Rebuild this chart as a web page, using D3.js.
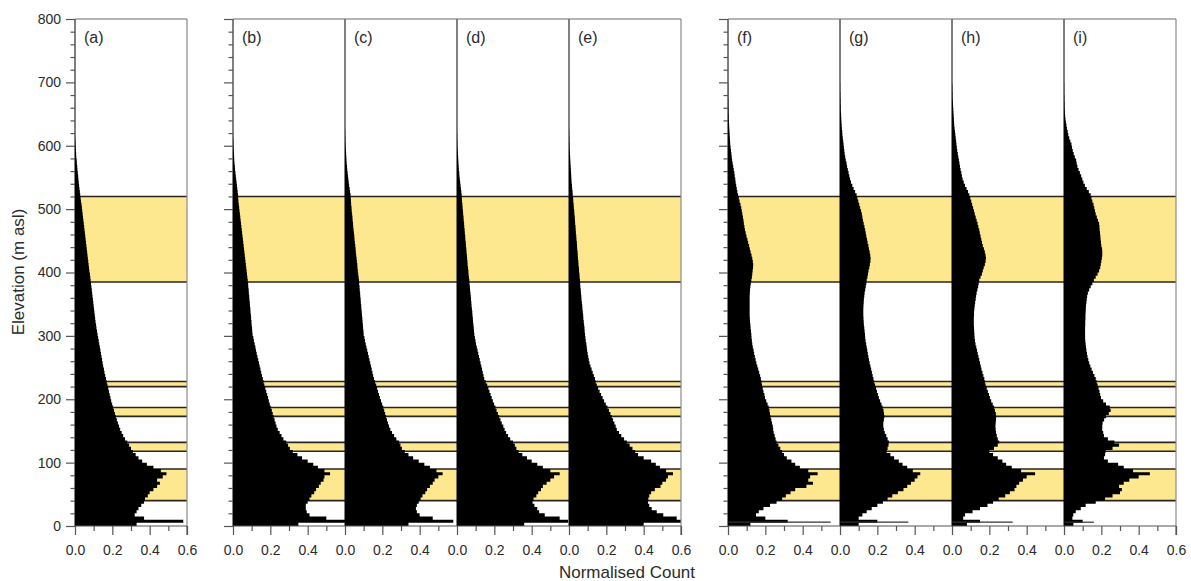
<!DOCTYPE html>
<html>
<head>
<meta charset="utf-8">
<script src="https://cdn.jsdelivr.net/npm/d3@7"></script>
<style>
  body { margin: 0; background: #fff; }
  svg { display: block; font-family: "Liberation Sans", Arial, sans-serif; }
</style>
</head>
<body>
<svg id="chart" width="1191" height="581"></svg>
<script>
// ---------------- DATA ----------------
const panelLabels = ["(a)", "(b)", "(c)", "(d)", "(e)", "(f)", "(g)", "(h)", "(i)"];
const binWidth = 5; // elevation bin width (m); value i covers [i*5, i*5+5)

const histA = [
  0.33,0.58,0.37,0.32,0.33,0.34,0.355,0.37,0.375,0.39,
  0.40,0.42,0.44,0.455,0.44,0.47,0.49,0.46,0.42,0.385,
  0.36,0.34,0.325,0.31,0.30,0.29,0.28,0.268,0.258,0.25,
  0.242,0.236,0.23,0.224,0.219,0.214,0.209,0.204,0.199,0.194,
  0.19,0.186,0.182,0.178,0.174,0.17,0.166,0.162,0.158,0.155,
  0.151,0.148,0.145,0.142,0.139,0.136,0.133,0.13,0.127,0.124,
  0.121,0.118,0.115,0.113,0.11,0.108,0.106,0.104,0.102,0.10,
  0.098,0.096,0.094,0.092,0.09,0.088,0.086,0.084,0.082,0.08,
  0.077,0.075,0.073,0.071,0.069,0.067,0.065,0.063,0.061,0.059,
  0.057,0.055,0.053,0.051,0.049,0.047,0.045,0.043,0.041,0.039,
  0.037,0.035,0.032,0.03,0.028,0.026,0.024,0.022,0.02,0.018,
  0.017,0.015,0.013,0.012,0.01,0.009,0.007,0.006,0.005,0.004,
  0.003,0.002,0.001
];
const histB = [
  0.35,0.60,0.50,0.41,0.395,0.39,0.39,0.40,0.41,0.42,
  0.435,0.445,0.46,0.47,0.485,0.49,0.52,0.49,0.455,0.43,
  0.40,0.37,0.345,0.32,0.305,0.295,0.285,0.27,0.26,0.25,
  0.24,0.233,0.228,0.223,0.218,0.213,0.208,0.202,0.197,0.192,
  0.188,0.183,0.178,0.173,0.168,0.164,0.16,0.155,0.151,0.147,
  0.143,0.139,0.135,0.131,0.127,0.123,0.12,0.116,0.112,0.109,
  0.105,0.103,0.102,0.1,0.099,0.097,0.096,0.094,0.093,0.091,
  0.09,0.088,0.087,0.085,0.084,0.082,0.081,0.079,0.077,0.075,
  0.073,0.071,0.069,0.067,0.065,0.063,0.061,0.059,0.057,0.055,
  0.053,0.051,0.049,0.047,0.045,0.043,0.041,0.039,0.037,0.035,
  0.033,0.031,0.029,0.028,0.027,0.025,0.023,0.021,0.019,0.017,
  0.015,0.013,0.011,0.01,0.008,0.007,0.006,0.005,0.004,0.003,
  0.002,0.002,0.001
];
const histC = [
  0.34,0.58,0.47,0.40,0.385,0.38,0.385,0.395,0.405,0.415,
  0.43,0.44,0.455,0.47,0.48,0.50,0.523,0.49,0.455,0.425,
  0.395,0.365,0.34,0.32,0.305,0.297,0.29,0.275,0.263,0.252,
  0.243,0.236,0.23,0.225,0.22,0.215,0.21,0.205,0.199,0.193,
  0.187,0.182,0.177,0.172,0.167,0.161,0.155,0.151,0.147,0.143,
  0.139,0.135,0.131,0.127,0.123,0.119,0.115,0.111,0.107,0.104,
  0.10,0.099,0.097,0.096,0.094,0.093,0.091,0.09,0.088,0.087,
  0.085,0.084,0.082,0.081,0.079,0.078,0.076,0.075,0.073,0.071,
  0.069,0.067,0.066,0.064,0.062,0.06,0.058,0.057,0.055,0.053,
  0.051,0.05,0.048,0.046,0.044,0.043,0.041,0.04,0.038,0.036,
  0.035,0.033,0.032,0.031,0.03,0.027,0.025,0.022,0.02,0.018,
  0.016,0.014,0.012,0.011,0.009,0.008,0.007,0.006,0.005,0.004,
  0.003,0.002,0.002,0.001,0.001
];
const histD = [
  0.36,0.595,0.55,0.47,0.44,0.43,0.415,0.405,0.41,0.425,
  0.435,0.45,0.46,0.48,0.50,0.52,0.55,0.50,0.46,0.43,
  0.40,0.375,0.35,0.33,0.318,0.31,0.30,0.285,0.273,0.263,
  0.255,0.248,0.24,0.233,0.226,0.219,0.212,0.206,0.199,0.192,
  0.186,0.18,0.174,0.168,0.162,0.154,0.146,0.142,0.138,0.134,
  0.13,0.126,0.122,0.118,0.114,0.11,0.106,0.102,0.099,0.096,
  0.093,0.091,0.09,0.088,0.086,0.085,0.083,0.082,0.08,0.078,
  0.077,0.075,0.074,0.072,0.07,0.069,0.067,0.066,0.064,0.062,
  0.061,0.059,0.057,0.056,0.054,0.053,0.051,0.05,0.048,0.047,
  0.045,0.044,0.042,0.041,0.039,0.038,0.036,0.035,0.033,0.032,
  0.03,0.029,0.027,0.026,0.025,0.023,0.021,0.019,0.017,0.015,
  0.013,0.012,0.01,0.009,0.008,0.007,0.006,0.005,0.004,0.003,
  0.002,0.002,0.001,0.001
];
const histE = [
  0.40,0.60,0.577,0.505,0.47,0.443,0.43,0.423,0.425,0.43,
  0.44,0.46,0.49,0.50,0.52,0.53,0.557,0.52,0.487,0.465,
  0.44,0.40,0.37,0.355,0.34,0.325,0.31,0.295,0.28,0.268,
  0.256,0.25,0.243,0.236,0.229,0.222,0.214,0.206,0.197,0.188,
  0.18,0.172,0.164,0.156,0.149,0.143,0.139,0.133,0.127,0.121,
  0.115,0.11,0.106,0.103,0.10,0.097,0.095,0.093,0.09,0.088,
  0.086,0.084,0.083,0.081,0.079,0.077,0.076,0.074,0.072,0.071,
  0.069,0.067,0.066,0.064,0.063,0.061,0.06,0.059,0.057,0.056,
  0.054,0.053,0.051,0.05,0.048,0.047,0.046,0.044,0.043,0.042,
  0.04,0.039,0.037,0.036,0.035,0.033,0.032,0.031,0.029,0.028,
  0.026,0.025,0.023,0.022,0.02,0.019,0.017,0.016,0.014,0.013,
  0.012,0.011,0.01,0.009,0.008,0.007,0.006,0.005,0.004,0.003,
  0.003,0.002,0.002,0.001,0.001
];
const histF = [
  0.12,0.32,0.20,0.15,0.165,0.19,0.225,0.26,0.29,0.31,
  0.335,0.36,0.42,0.455,0.43,0.44,0.48,0.43,0.385,0.36,
  0.34,0.315,0.30,0.29,0.28,0.27,0.26,0.255,0.25,0.245,
  0.242,0.24,0.236,0.232,0.228,0.225,0.222,0.218,0.212,0.205,
  0.198,0.195,0.19,0.186,0.182,0.179,0.176,0.172,0.167,0.162,
  0.157,0.152,0.148,0.144,0.14,0.137,0.133,0.13,0.128,0.126,
  0.125,0.123,0.121,0.12,0.118,0.117,0.116,0.116,0.116,0.116,
  0.116,0.116,0.116,0.117,0.118,0.12,0.122,0.125,0.128,0.13,
  0.132,0.134,0.135,0.133,0.13,0.126,0.121,0.117,0.113,0.108,
  0.104,0.099,0.095,0.091,0.088,0.085,0.083,0.08,0.077,0.074,
  0.071,0.067,0.062,0.058,0.054,0.05,0.047,0.044,0.041,0.039,
  0.036,0.034,0.031,0.028,0.025,0.022,0.02,0.018,0.016,0.014,
  0.012,0.011,0.01,0.009,0.008,0.007,0.006,0.005,0.004,0.004,
  0.003,0.003,0.002,0.002,0.002,0.001,0.001,0.001,0.001,0.001
];
const histG = [
  0.10,0.20,0.10,0.12,0.143,0.17,0.20,0.23,0.255,0.28,
  0.31,0.34,0.36,0.38,0.40,0.415,0.43,0.39,0.36,0.335,
  0.315,0.29,0.27,0.25,0.255,0.26,0.262,0.255,0.248,0.24,
  0.235,0.232,0.232,0.235,0.238,0.236,0.233,0.228,0.222,0.215,
  0.208,0.203,0.198,0.193,0.188,0.183,0.179,0.175,0.171,0.167,
  0.163,0.159,0.155,0.152,0.149,0.146,0.143,0.14,0.137,0.135,
  0.134,0.132,0.13,0.128,0.127,0.126,0.125,0.125,0.125,0.126,
  0.127,0.128,0.13,0.132,0.135,0.138,0.141,0.143,0.147,0.15,
  0.153,0.157,0.16,0.163,0.164,0.162,0.159,0.155,0.152,0.148,
  0.145,0.141,0.138,0.135,0.131,0.127,0.123,0.12,0.117,0.113,
  0.108,0.103,0.098,0.093,0.089,0.081,0.073,0.066,0.059,0.054,
  0.05,0.046,0.042,0.038,0.035,0.031,0.028,0.025,0.023,0.021,
  0.019,0.017,0.015,0.013,0.012,0.01,0.009,0.008,0.007,0.006,
  0.005,0.004,0.004,0.003,0.003,0.002,0.002,0.001,0.001,0.001
];
const histH = [
  0.08,0.15,0.06,0.07,0.11,0.15,0.19,0.22,0.25,0.285,
  0.31,0.335,0.345,0.36,0.38,0.40,0.445,0.37,0.32,0.29,
  0.27,0.245,0.22,0.20,0.225,0.245,0.253,0.245,0.24,0.236,
  0.234,0.233,0.234,0.236,0.236,0.235,0.23,0.225,0.218,0.21,
  0.203,0.198,0.192,0.186,0.18,0.176,0.173,0.168,0.163,0.158,
  0.154,0.15,0.146,0.142,0.138,0.134,0.13,0.126,0.123,0.121,
  0.12,0.119,0.118,0.117,0.117,0.117,0.118,0.118,0.12,0.122,
  0.124,0.127,0.129,0.132,0.136,0.14,0.143,0.146,0.153,0.16,
  0.165,0.17,0.176,0.18,0.182,0.18,0.176,0.171,0.165,0.161,
  0.157,0.153,0.149,0.146,0.141,0.137,0.132,0.127,0.122,0.118,
  0.113,0.108,0.103,0.098,0.093,0.086,0.078,0.07,0.063,0.057,
  0.053,0.05,0.046,0.043,0.04,0.037,0.034,0.031,0.028,0.026,
  0.024,0.022,0.02,0.018,0.016,0.014,0.012,0.011,0.01,0.009,
  0.008,0.007,0.006,0.005,0.004,0.003,0.003,0.002,0.002,0.001
];
const histI = [
  0.05,0.10,0.045,0.05,0.063,0.09,0.116,0.17,0.22,0.26,
  0.30,0.31,0.295,0.32,0.35,0.40,0.46,0.37,0.32,0.29,
  0.235,0.214,0.22,0.223,0.26,0.295,0.27,0.235,0.214,0.21,
  0.205,0.205,0.207,0.215,0.225,0.24,0.25,0.245,0.225,0.21,
  0.198,0.194,0.19,0.185,0.18,0.175,0.17,0.163,0.155,0.148,
  0.141,0.135,0.13,0.126,0.123,0.12,0.118,0.116,0.114,0.113,
  0.113,0.113,0.113,0.114,0.114,0.115,0.115,0.116,0.117,0.118,
  0.12,0.122,0.124,0.128,0.135,0.143,0.152,0.16,0.17,0.18,
  0.188,0.194,0.197,0.20,0.203,0.205,0.205,0.204,0.20,0.198,
  0.196,0.195,0.193,0.191,0.19,0.188,0.182,0.176,0.17,0.166,
  0.162,0.158,0.152,0.147,0.143,0.133,0.122,0.112,0.104,0.098,
  0.092,0.085,0.078,0.072,0.068,0.065,0.058,0.052,0.047,0.043,
  0.04,0.034,0.028,0.023,0.02,0.016,0.013,0.01,0.008,0.006,
  0.005,0.004,0.003,0.003,0.002,0.002,0.001,0.001,0.001,0.001
];
const histograms = [histA, histB, histC, histD, histE, histF, histG, histH, histI];

// thin single-bin spike near the valley floor (f - i)
const spikeElevation = 6;
const spikeValues = [null, null, null, null, null, 0.55, 0.366, 0.325, 0.16];

// shaded elevation bands [bottom, top] (m asl)
const bands = [[40, 90], [118, 132], [173, 187], [220, 228], [385, 520]];

// axis ticks
const yMajorTicks = [0, 100, 200, 300, 400, 500, 600, 700, 800];
const yMinorTicks = [20, 40, 60, 80, 120, 140, 160, 180, 220, 240, 260, 280, 320, 340, 360, 380,
                     420, 440, 460, 480, 520, 540, 560, 580, 620, 640, 660, 680, 720, 740, 760, 780];
const xMajorTicks = [0, 0.2, 0.4, 0.6];
const xTickLabels = ["0.0", "0.2", "0.4", "0.6"];
const xMinorTicks = [0.1, 0.3, 0.5];

const yTitle = "Elevation (m asl)";
const xTitle = "Normalised Count";

// ---------------- LAYOUT ----------------
const svg = d3.select("#chart");
const y = d3.scaleLinear().domain([0, 800]).range([526, 19]);
const panelW = 112;
const groups = [
  { start: 75, panels: [0] },
  { start: 233, panels: [1, 2, 3, 4] },
  { start: 728, panels: [5, 6, 7, 8] }
];
const bandFill = "#fde88f";
const tickColor = "#555";
const textColor = "#2b2b2b";

groups.forEach((grp, gi) => {
  const gx0 = grp.start, gx1 = grp.start + panelW * grp.panels.length;

  grp.panels.forEach((p, k) => {
    const x0 = gx0 + k * panelW;
    const x = d3.scaleLinear().domain([0, 0.6]).range([x0, x0 + panelW]);
    const isLast = k === grp.panels.length - 1;
    const g = svg.append("g");

    // bands
    g.selectAll("rect.band").data(bands).join("rect")
      .attr("class", "band")
      .attr("x", x(0)).attr("width", x(0.6) - x(0))
      .attr("y", d => y(d[1])).attr("height", d => y(d[0]) - y(d[1]))
      .attr("fill", bandFill);
    g.selectAll("line.bandline").data(bands.flat()).join("line")
      .attr("class", "bandline")
      .attr("x1", x(0)).attr("x2", x(0.6))
      .attr("y1", d => y(d)).attr("y2", d => y(d))
      .attr("stroke", "#2a2520").attr("stroke-width", 1.6);

    // histogram
    const vals = histograms[p];
    const pts = vals.map((v, i) => ({ e: i * binWidth, v }));
    pts.push({ e: vals.length * binWidth, v: 0 });
    const area = d3.area()
      .y(d => y(d.e))
      .x0(x(0))
      .x1(d => x(d.v))
      .curve(d3.curveStepBefore);
    g.append("path").datum(pts).attr("d", area).attr("fill", "#000");

    if (spikeValues[p] != null) {
      g.append("line")
        .attr("x1", x(0)).attr("x2", x(spikeValues[p]))
        .attr("y1", y(spikeElevation)).attr("y2", y(spikeElevation))
        .attr("stroke", "#333").attr("stroke-width", 1.2);
    }

    // panel left edge
    g.append("line").attr("x1", x(0)).attr("x2", x(0)).attr("y1", y(0)).attr("y2", y(800))
      .attr("stroke", "#000").attr("stroke-width", 1);
    if (isLast) {
      g.append("line").attr("x1", x(0.6)).attr("x2", x(0.6)).attr("y1", y(0)).attr("y2", y(800))
        .attr("stroke", "#8a8a8a").attr("stroke-width", 1.2);
    }

    // x axis (major)
    const ax = d3.axisBottom(x)
      .tickValues(isLast ? xMajorTicks : xMajorTicks.slice(0, 3))
      .tickFormat(d => xTickLabels[xMajorTicks.indexOf(d)])
      .tickSize(9).tickPadding(10).tickSizeOuter(0);
    const axg = g.append("g").attr("transform", `translate(0,${y(0)})`).call(ax);
    axg.select(".domain").remove();
    axg.selectAll(".tick line").attr("stroke", tickColor).attr("stroke-width", 1.2);
    axg.selectAll(".tick text").attr("fill", textColor)
      .style("font-size", "14px").style("font-family", '"Liberation Sans", Arial, sans-serif');
    if (isLast) {
      axg.append("line").attr("x1", x(0.6)).attr("x2", x(0.6)).attr("y1", 0).attr("y2", 9)
        .attr("stroke", tickColor).attr("stroke-width", 1.2);
    }
    // x axis (minor)
    const axm = d3.axisBottom(x).tickValues(xMinorTicks).tickFormat("").tickSize(5).tickSizeOuter(0);
    const axmg = g.append("g").attr("transform", `translate(0,${y(0)})`).call(axm);
    axmg.select(".domain").remove();
    axmg.selectAll(".tick line").attr("stroke", tickColor).attr("stroke-width", 1.2);

    // panel label
    g.append("text").attr("x", x0 + 9).attr("y", 43)
      .attr("fill", textColor).style("font-size", "16px")
      .text(panelLabels[p]);
  });

  // group top & bottom frame lines
  svg.append("line").attr("x1", gx0).attr("x2", gx1).attr("y1", y(800)).attr("y2", y(800))
    .attr("stroke", "#6a6a6a").attr("stroke-width", 1.2);
  svg.append("line").attr("x1", gx0).attr("x2", gx1).attr("y1", y(0)).attr("y2", y(0))
    .attr("stroke", "#555").attr("stroke-width", 1.2);

  // y axis on left of each group
  const ay = d3.axisLeft(y).tickValues(yMajorTicks)
    .tickFormat(gi === 0 ? d3.format("d") : () => "")
    .tickSize(9).tickPadding(5).tickSizeOuter(0);
  const ayg = svg.append("g").attr("transform", `translate(${gx0},0)`).call(ay);
  ayg.select(".domain").remove();
  ayg.selectAll(".tick line").attr("stroke", tickColor).attr("stroke-width", 1.2);
  ayg.selectAll(".tick text").attr("fill", textColor)
    .style("font-size", "14px").style("font-family", '"Liberation Sans", Arial, sans-serif');
  const aym = d3.axisLeft(y).tickValues(yMinorTicks).tickFormat("").tickSize(4.5).tickSizeOuter(0);
  const aymg = svg.append("g").attr("transform", `translate(${gx0},0)`).call(aym);
  aymg.select(".domain").remove();
  aymg.selectAll(".tick line").attr("stroke", tickColor).attr("stroke-width", 1.2);
});

// axis titles
svg.append("text")
  .attr("x", 627).attr("y", 578)
  .attr("text-anchor", "middle")
  .attr("fill", textColor).style("font-size", "17px")
  .text(xTitle);
svg.append("text")
  .attr("transform", "translate(24,272) rotate(-90)")
  .attr("text-anchor", "middle")
  .attr("fill", textColor).style("font-size", "17px")
  .text(yTitle);
</script>
</body>
</html>
